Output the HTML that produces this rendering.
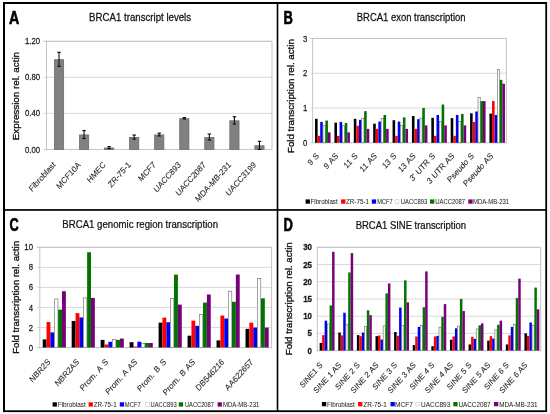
<!DOCTYPE html><html><head><meta charset="utf-8"><style>html,body{margin:0;padding:0;background:#fff;width:550px;height:414px;overflow:hidden}svg{display:block;filter:blur(0.3px)}text{font-family:"Liberation Sans", sans-serif}</style></head><body>
<svg width="550" height="414" viewBox="0 0 550 414">
<rect width="550" height="414" fill="#fff"/>
<rect x="3" y="2" width="2" height="410" fill="#000"/>
<rect x="545.3" y="2" width="1.8" height="410" fill="#000"/>
<rect x="3" y="2" width="544" height="2" fill="#000"/>
<rect x="3" y="410.3" width="544" height="1.8" fill="#000"/>
<rect x="276.7" y="2" width="1.6" height="410" fill="#000"/>
<rect x="3" y="209.1" width="544" height="1.7" fill="#000"/>
<text x="0" y="0" font-size="18" text-anchor="start" font-weight="bold" fill="#000" stroke="#000" stroke-width="0.6" transform="translate(9.00 23.50) scale(0.790 1)">A</text>
<text x="0" y="0" font-size="18" text-anchor="start" font-weight="bold" fill="#000" stroke="#000" stroke-width="0.6" transform="translate(283.60 24.30) scale(0.720 1)">B</text>
<text x="0" y="0" font-size="18" text-anchor="start" font-weight="bold" fill="#000" stroke="#000" stroke-width="0.6" transform="translate(9.60 230.50) scale(0.710 1)">C</text>
<text x="0" y="0" font-size="18" text-anchor="start" font-weight="bold" fill="#000" stroke="#000" stroke-width="0.6" transform="translate(283.50 230.50) scale(0.720 1)">D</text>
<text x="0" y="0" font-size="11" text-anchor="start" font-weight="normal" fill="#111" stroke="#111" stroke-width="0.25" transform="translate(89.11 21.30) scale(0.879 1)">BRCA1 transcript levels</text>
<text x="0" y="0" font-size="11" text-anchor="start" font-weight="normal" fill="#111" stroke="#111" stroke-width="0.25" transform="translate(356.82 21.30) scale(0.860 1)">BRCA1 exon transcription</text>
<text x="0" y="0" font-size="11" text-anchor="start" font-weight="normal" fill="#111" stroke="#111" stroke-width="0.25" transform="translate(62.31 228.30) scale(0.876 1)">BRCA1 genomic region transcription</text>
<text x="0" y="0" font-size="11" text-anchor="start" font-weight="normal" fill="#111" stroke="#111" stroke-width="0.25" transform="translate(355.72 228.60) scale(0.861 1)">BRCA1 SINE transcription</text>
<text x="0" y="0" font-size="9.82" text-anchor="middle" font-weight="normal" fill="#111" stroke="#111" stroke-width="0.35" transform="translate(19.20 96.10) scale(0.860 1) rotate(-90)">Expression rel. actin</text>
<text x="0" y="0" font-size="9.72" text-anchor="middle" font-weight="normal" fill="#111" stroke="#111" stroke-width="0.35" transform="translate(293.80 96.10) scale(0.930 1) rotate(-90)">Fold transcription rel. actin</text>
<text x="0" y="0" font-size="9.64" text-anchor="middle" font-weight="normal" fill="#111" stroke="#111" stroke-width="0.35" transform="translate(18.50 297.40) scale(0.930 1) rotate(-90)">Fold transcription rel. actin</text>
<text x="0" y="0" font-size="9.64" text-anchor="middle" font-weight="normal" fill="#111" stroke="#111" stroke-width="0.35" transform="translate(292.30 298.80) scale(0.930 1) rotate(-90)">Fold transcription rel. actin</text>
<line x1="43.5" y1="113.37" x2="272.0" y2="113.37" stroke="#d9d9d9" stroke-width="1"/>
<line x1="43.5" y1="77.33" x2="272.0" y2="77.33" stroke="#d9d9d9" stroke-width="1"/>
<line x1="43.5" y1="41.30" x2="272.0" y2="41.30" stroke="#d9d9d9" stroke-width="1"/>
<line x1="43.5" y1="41.3" x2="272.0" y2="41.3" stroke="#c4c4c4" stroke-width="1"/>
<line x1="46.5" y1="41.3" x2="46.5" y2="149.4" stroke="#c4c4c4" stroke-width="1"/>
<line x1="272.0" y1="41.3" x2="272.0" y2="149.4" stroke="#c4c4c4" stroke-width="1"/>
<line x1="43.5" y1="149.4" x2="272.0" y2="149.4" stroke="#c4c4c4" stroke-width="1"/>
<text x="0" y="0" font-size="9.7" text-anchor="end" font-weight="normal" fill="#1a1a1a" stroke="#1a1a1a" stroke-width="0.25" transform="translate(40.00 152.50) scale(0.800 1)">0.00</text>
<text x="0" y="0" font-size="9.7" text-anchor="end" font-weight="normal" fill="#1a1a1a" stroke="#1a1a1a" stroke-width="0.25" transform="translate(40.00 116.47) scale(0.800 1)">0.40</text>
<text x="0" y="0" font-size="9.7" text-anchor="end" font-weight="normal" fill="#1a1a1a" stroke="#1a1a1a" stroke-width="0.25" transform="translate(40.00 80.43) scale(0.800 1)">0.80</text>
<text x="0" y="0" font-size="9.7" text-anchor="end" font-weight="normal" fill="#1a1a1a" stroke="#1a1a1a" stroke-width="0.25" transform="translate(40.00 44.40) scale(0.800 1)">1.20</text>
<line x1="46.50" y1="149.4" x2="46.50" y2="151.4" stroke="#e4e4e4" stroke-width="1"/>
<line x1="71.56" y1="149.4" x2="71.56" y2="151.4" stroke="#e4e4e4" stroke-width="1"/>
<line x1="96.61" y1="149.4" x2="96.61" y2="151.4" stroke="#e4e4e4" stroke-width="1"/>
<line x1="121.67" y1="149.4" x2="121.67" y2="151.4" stroke="#e4e4e4" stroke-width="1"/>
<line x1="146.72" y1="149.4" x2="146.72" y2="151.4" stroke="#e4e4e4" stroke-width="1"/>
<line x1="171.78" y1="149.4" x2="171.78" y2="151.4" stroke="#e4e4e4" stroke-width="1"/>
<line x1="196.83" y1="149.4" x2="196.83" y2="151.4" stroke="#e4e4e4" stroke-width="1"/>
<line x1="221.89" y1="149.4" x2="221.89" y2="151.4" stroke="#e4e4e4" stroke-width="1"/>
<line x1="246.94" y1="149.4" x2="246.94" y2="151.4" stroke="#e4e4e4" stroke-width="1"/>
<line x1="272.00" y1="149.4" x2="272.00" y2="151.4" stroke="#e4e4e4" stroke-width="1"/>
<rect x="54.43" y="59.72" width="9.2" height="89.68" fill="#818181" stroke="#6c6c6c" stroke-width="0.8"/>
<line x1="59.03" y1="52.32" x2="59.03" y2="66.32" stroke="#111" stroke-width="1.1"/>
<line x1="57.33" y1="52.32" x2="60.73" y2="52.32" stroke="#111" stroke-width="1.2"/>
<line x1="57.33" y1="66.32" x2="60.73" y2="66.32" stroke="#111" stroke-width="1.2"/>
<text x="0" y="0" font-size="8.7" text-anchor="end" font-weight="normal" fill="#262626" stroke="#262626" stroke-width="0.1" word-spacing="1.2" transform="translate(56.03 165.40) scale(0.890 1) rotate(-45)">Fibroblast</text>
<rect x="79.48" y="134.94" width="9.2" height="14.46" fill="#818181" stroke="#6c6c6c" stroke-width="0.8"/>
<line x1="84.08" y1="130.54" x2="84.08" y2="138.54" stroke="#111" stroke-width="1.1"/>
<line x1="82.38" y1="130.54" x2="85.78" y2="130.54" stroke="#111" stroke-width="1.2"/>
<line x1="82.38" y1="138.54" x2="85.78" y2="138.54" stroke="#111" stroke-width="1.2"/>
<text x="0" y="0" font-size="8.7" text-anchor="end" font-weight="normal" fill="#262626" stroke="#262626" stroke-width="0.1" word-spacing="1.2" transform="translate(81.08 165.40) scale(0.890 1) rotate(-45)">MCF10A</text>
<rect x="104.54" y="148.00" width="9.2" height="1.40" fill="#818181" stroke="#6c6c6c" stroke-width="0.8"/>
<line x1="109.14" y1="146.60" x2="109.14" y2="148.60" stroke="#111" stroke-width="1.1"/>
<line x1="107.44" y1="146.60" x2="110.84" y2="146.60" stroke="#111" stroke-width="1.2"/>
<line x1="107.44" y1="148.60" x2="110.84" y2="148.60" stroke="#111" stroke-width="1.2"/>
<text x="0" y="0" font-size="8.7" text-anchor="end" font-weight="normal" fill="#262626" stroke="#262626" stroke-width="0.1" word-spacing="1.2" transform="translate(106.14 165.40) scale(0.890 1) rotate(-45)">HMEC</text>
<rect x="129.59" y="137.46" width="9.2" height="11.94" fill="#818181" stroke="#6c6c6c" stroke-width="0.8"/>
<line x1="134.19" y1="135.06" x2="134.19" y2="139.06" stroke="#111" stroke-width="1.1"/>
<line x1="132.49" y1="135.06" x2="135.89" y2="135.06" stroke="#111" stroke-width="1.2"/>
<line x1="132.49" y1="139.06" x2="135.89" y2="139.06" stroke="#111" stroke-width="1.2"/>
<text x="0" y="0" font-size="8.7" text-anchor="end" font-weight="normal" fill="#262626" stroke="#262626" stroke-width="0.1" word-spacing="1.2" transform="translate(131.19 165.40) scale(0.890 1) rotate(-45)">ZR-75-1</text>
<rect x="154.65" y="134.94" width="9.2" height="14.46" fill="#818181" stroke="#6c6c6c" stroke-width="0.8"/>
<line x1="159.25" y1="133.14" x2="159.25" y2="135.94" stroke="#111" stroke-width="1.1"/>
<line x1="157.55" y1="133.14" x2="160.95" y2="133.14" stroke="#111" stroke-width="1.2"/>
<line x1="157.55" y1="135.94" x2="160.95" y2="135.94" stroke="#111" stroke-width="1.2"/>
<text x="0" y="0" font-size="8.7" text-anchor="end" font-weight="normal" fill="#262626" stroke="#262626" stroke-width="0.1" word-spacing="1.2" transform="translate(156.25 165.40) scale(0.890 1) rotate(-45)">MCF7</text>
<rect x="179.71" y="118.72" width="9.2" height="30.68" fill="#818181" stroke="#6c6c6c" stroke-width="0.8"/>
<line x1="184.31" y1="117.62" x2="184.31" y2="119.02" stroke="#111" stroke-width="1.1"/>
<line x1="182.61" y1="117.62" x2="186.01" y2="117.62" stroke="#111" stroke-width="1.2"/>
<line x1="182.61" y1="119.02" x2="186.01" y2="119.02" stroke="#111" stroke-width="1.2"/>
<text x="0" y="0" font-size="8.7" text-anchor="end" font-weight="normal" fill="#262626" stroke="#262626" stroke-width="0.1" word-spacing="1.2" transform="translate(181.31 165.40) scale(0.890 1) rotate(-45)">UACC893</text>
<rect x="204.76" y="137.46" width="9.2" height="11.94" fill="#818181" stroke="#6c6c6c" stroke-width="0.8"/>
<line x1="209.36" y1="134.06" x2="209.36" y2="140.06" stroke="#111" stroke-width="1.1"/>
<line x1="207.66" y1="134.06" x2="211.06" y2="134.06" stroke="#111" stroke-width="1.2"/>
<line x1="207.66" y1="140.06" x2="211.06" y2="140.06" stroke="#111" stroke-width="1.2"/>
<text x="0" y="0" font-size="8.7" text-anchor="end" font-weight="normal" fill="#262626" stroke="#262626" stroke-width="0.1" word-spacing="1.2" transform="translate(206.36 165.40) scale(0.890 1) rotate(-45)">UACC2087</text>
<rect x="229.82" y="120.79" width="9.2" height="28.61" fill="#818181" stroke="#6c6c6c" stroke-width="0.8"/>
<line x1="234.42" y1="116.79" x2="234.42" y2="123.99" stroke="#111" stroke-width="1.1"/>
<line x1="232.72" y1="116.79" x2="236.12" y2="116.79" stroke="#111" stroke-width="1.2"/>
<line x1="232.72" y1="123.99" x2="236.12" y2="123.99" stroke="#111" stroke-width="1.2"/>
<text x="0" y="0" font-size="8.7" text-anchor="end" font-weight="normal" fill="#262626" stroke="#262626" stroke-width="0.1" word-spacing="1.2" transform="translate(231.42 165.40) scale(0.890 1) rotate(-45)">MDA-MB-231</text>
<rect x="254.87" y="145.75" width="9.2" height="3.65" fill="#818181" stroke="#6c6c6c" stroke-width="0.8"/>
<line x1="259.47" y1="141.35" x2="259.47" y2="149.35" stroke="#111" stroke-width="1.1"/>
<line x1="257.77" y1="141.35" x2="261.17" y2="141.35" stroke="#111" stroke-width="1.2"/>
<line x1="257.77" y1="149.35" x2="261.17" y2="149.35" stroke="#111" stroke-width="1.2"/>
<text x="0" y="0" font-size="8.7" text-anchor="end" font-weight="normal" fill="#262626" stroke="#262626" stroke-width="0.1" word-spacing="1.2" transform="translate(256.47 165.40) scale(0.890 1) rotate(-45)">UACC3199</text>
<line x1="310.6" y1="108.03" x2="506.4" y2="108.03" stroke="#d9d9d9" stroke-width="1"/>
<line x1="310.6" y1="73.27" x2="506.4" y2="73.27" stroke="#d9d9d9" stroke-width="1"/>
<line x1="310.6" y1="38.50" x2="506.4" y2="38.50" stroke="#d9d9d9" stroke-width="1"/>
<line x1="310.6" y1="38.5" x2="506.4" y2="38.5" stroke="#c4c4c4" stroke-width="1"/>
<line x1="312.6" y1="38.5" x2="312.6" y2="142.8" stroke="#c4c4c4" stroke-width="1"/>
<line x1="506.4" y1="38.5" x2="506.4" y2="142.8" stroke="#c4c4c4" stroke-width="1"/>
<line x1="310.6" y1="142.8" x2="506.4" y2="142.8" stroke="#c4c4c4" stroke-width="1"/>
<text x="0" y="0" font-size="9.7" text-anchor="end" font-weight="normal" fill="#1a1a1a" stroke="#1a1a1a" stroke-width="0.25" transform="translate(307.30 145.90) scale(0.800 1)">0</text>
<text x="0" y="0" font-size="9.7" text-anchor="end" font-weight="normal" fill="#1a1a1a" stroke="#1a1a1a" stroke-width="0.25" transform="translate(307.30 111.13) scale(0.800 1)">1</text>
<text x="0" y="0" font-size="9.7" text-anchor="end" font-weight="normal" fill="#1a1a1a" stroke="#1a1a1a" stroke-width="0.25" transform="translate(307.30 76.37) scale(0.800 1)">2</text>
<text x="0" y="0" font-size="9.7" text-anchor="end" font-weight="normal" fill="#1a1a1a" stroke="#1a1a1a" stroke-width="0.25" transform="translate(307.30 41.60) scale(0.800 1)">3</text>
<line x1="312.60" y1="142.8" x2="312.60" y2="144.8" stroke="#e4e4e4" stroke-width="1"/>
<line x1="331.98" y1="142.8" x2="331.98" y2="144.8" stroke="#e4e4e4" stroke-width="1"/>
<line x1="351.36" y1="142.8" x2="351.36" y2="144.8" stroke="#e4e4e4" stroke-width="1"/>
<line x1="370.74" y1="142.8" x2="370.74" y2="144.8" stroke="#e4e4e4" stroke-width="1"/>
<line x1="390.12" y1="142.8" x2="390.12" y2="144.8" stroke="#e4e4e4" stroke-width="1"/>
<line x1="409.50" y1="142.8" x2="409.50" y2="144.8" stroke="#e4e4e4" stroke-width="1"/>
<line x1="428.88" y1="142.8" x2="428.88" y2="144.8" stroke="#e4e4e4" stroke-width="1"/>
<line x1="448.26" y1="142.8" x2="448.26" y2="144.8" stroke="#e4e4e4" stroke-width="1"/>
<line x1="467.64" y1="142.8" x2="467.64" y2="144.8" stroke="#e4e4e4" stroke-width="1"/>
<line x1="487.02" y1="142.8" x2="487.02" y2="144.8" stroke="#e4e4e4" stroke-width="1"/>
<line x1="506.40" y1="142.8" x2="506.40" y2="144.8" stroke="#e4e4e4" stroke-width="1"/>
<rect x="315.04" y="118.81" width="2.58" height="23.99" fill="#000000"/>
<rect x="317.62" y="135.85" width="2.58" height="6.95" fill="#ff0000"/>
<rect x="320.21" y="121.94" width="2.58" height="20.86" fill="#0000f0"/>
<rect x="322.99" y="125.42" width="2.18" height="17.38" fill="#fff" stroke="#666" stroke-width="0.6"/>
<rect x="325.37" y="120.55" width="2.58" height="22.25" fill="#007300"/>
<rect x="327.96" y="132.37" width="2.58" height="10.43" fill="#780078"/>
<text x="0" y="0" font-size="8.7" text-anchor="end" font-weight="normal" fill="#262626" stroke="#262626" stroke-width="0.1" word-spacing="0.6" transform="translate(319.29 156.30) scale(0.890 1) rotate(-45)">9 S</text>
<rect x="334.42" y="122.64" width="2.58" height="20.16" fill="#000000"/>
<rect x="337.00" y="135.85" width="2.58" height="6.95" fill="#ff0000"/>
<rect x="339.59" y="121.94" width="2.58" height="20.86" fill="#0000f0"/>
<rect x="342.37" y="125.76" width="2.18" height="17.04" fill="#fff" stroke="#666" stroke-width="0.6"/>
<rect x="344.75" y="122.98" width="2.58" height="19.82" fill="#007300"/>
<rect x="347.34" y="132.37" width="2.58" height="10.43" fill="#780078"/>
<text x="0" y="0" font-size="8.7" text-anchor="end" font-weight="normal" fill="#262626" stroke="#262626" stroke-width="0.1" word-spacing="0.6" transform="translate(338.67 156.30) scale(0.890 1) rotate(-45)">9 AS</text>
<rect x="353.80" y="118.81" width="2.58" height="23.99" fill="#000000"/>
<rect x="356.38" y="125.76" width="2.58" height="17.04" fill="#ff0000"/>
<rect x="358.97" y="119.85" width="2.58" height="22.95" fill="#0000f0"/>
<rect x="361.75" y="118.46" width="2.18" height="24.34" fill="#fff" stroke="#666" stroke-width="0.6"/>
<rect x="364.13" y="111.16" width="2.58" height="31.64" fill="#007300"/>
<rect x="366.72" y="128.89" width="2.58" height="13.91" fill="#780078"/>
<text x="0" y="0" font-size="8.7" text-anchor="end" font-weight="normal" fill="#262626" stroke="#262626" stroke-width="0.1" word-spacing="0.6" transform="translate(358.05 156.30) scale(0.890 1) rotate(-45)">11 S</text>
<rect x="373.18" y="123.68" width="2.58" height="19.12" fill="#000000"/>
<rect x="375.76" y="128.89" width="2.58" height="13.91" fill="#ff0000"/>
<rect x="378.35" y="121.59" width="2.58" height="21.21" fill="#0000f0"/>
<rect x="381.13" y="118.46" width="2.18" height="24.34" fill="#fff" stroke="#666" stroke-width="0.6"/>
<rect x="383.51" y="114.99" width="2.58" height="27.81" fill="#007300"/>
<rect x="386.10" y="128.89" width="2.58" height="13.91" fill="#780078"/>
<text x="0" y="0" font-size="8.7" text-anchor="end" font-weight="normal" fill="#262626" stroke="#262626" stroke-width="0.1" word-spacing="0.6" transform="translate(377.43 156.30) scale(0.890 1) rotate(-45)">11 AS</text>
<rect x="392.56" y="120.20" width="2.58" height="22.60" fill="#000000"/>
<rect x="395.14" y="135.85" width="2.58" height="6.95" fill="#ff0000"/>
<rect x="397.73" y="121.59" width="2.58" height="21.21" fill="#0000f0"/>
<rect x="400.51" y="125.42" width="2.18" height="17.38" fill="#fff" stroke="#666" stroke-width="0.6"/>
<rect x="402.89" y="117.42" width="2.58" height="25.38" fill="#007300"/>
<rect x="405.48" y="128.89" width="2.58" height="13.91" fill="#780078"/>
<text x="0" y="0" font-size="8.7" text-anchor="end" font-weight="normal" fill="#262626" stroke="#262626" stroke-width="0.1" word-spacing="0.6" transform="translate(396.81 156.30) scale(0.890 1) rotate(-45)">13 S</text>
<rect x="411.94" y="116.03" width="2.58" height="26.77" fill="#000000"/>
<rect x="414.52" y="128.89" width="2.58" height="13.91" fill="#ff0000"/>
<rect x="417.11" y="119.16" width="2.58" height="23.64" fill="#0000f0"/>
<rect x="419.89" y="118.12" width="2.18" height="24.68" fill="#fff" stroke="#666" stroke-width="0.6"/>
<rect x="422.27" y="108.03" width="2.58" height="34.77" fill="#007300"/>
<rect x="424.86" y="125.42" width="2.58" height="17.38" fill="#780078"/>
<text x="0" y="0" font-size="8.7" text-anchor="end" font-weight="normal" fill="#262626" stroke="#262626" stroke-width="0.1" word-spacing="0.6" transform="translate(416.19 156.30) scale(0.890 1) rotate(-45)">13 AS</text>
<rect x="431.32" y="117.77" width="2.58" height="25.03" fill="#000000"/>
<rect x="433.90" y="135.85" width="2.58" height="6.95" fill="#ff0000"/>
<rect x="436.49" y="114.99" width="2.58" height="27.81" fill="#0000f0"/>
<rect x="439.27" y="121.59" width="2.18" height="21.21" fill="#fff" stroke="#666" stroke-width="0.6"/>
<rect x="441.65" y="104.56" width="2.58" height="38.24" fill="#007300"/>
<rect x="444.24" y="125.42" width="2.58" height="17.38" fill="#780078"/>
<text x="0" y="0" font-size="8.7" text-anchor="end" font-weight="normal" fill="#262626" stroke="#262626" stroke-width="0.1" word-spacing="0.6" transform="translate(435.57 156.30) scale(0.890 1) rotate(-45)">3' UTR S</text>
<rect x="450.70" y="118.12" width="2.58" height="24.68" fill="#000000"/>
<rect x="453.28" y="135.85" width="2.58" height="6.95" fill="#ff0000"/>
<rect x="455.87" y="114.99" width="2.58" height="27.81" fill="#0000f0"/>
<rect x="458.65" y="121.59" width="2.18" height="21.21" fill="#fff" stroke="#666" stroke-width="0.6"/>
<rect x="461.03" y="113.94" width="2.58" height="28.86" fill="#007300"/>
<rect x="463.62" y="125.42" width="2.58" height="17.38" fill="#780078"/>
<text x="0" y="0" font-size="8.7" text-anchor="end" font-weight="normal" fill="#262626" stroke="#262626" stroke-width="0.1" word-spacing="0.6" transform="translate(454.95 156.30) scale(0.890 1) rotate(-45)">3 UTR AS</text>
<rect x="470.08" y="113.25" width="2.58" height="29.55" fill="#000000"/>
<rect x="472.66" y="121.94" width="2.58" height="20.86" fill="#ff0000"/>
<rect x="475.25" y="111.51" width="2.58" height="31.29" fill="#0000f0"/>
<rect x="478.03" y="97.26" width="2.18" height="45.54" fill="#fff" stroke="#666" stroke-width="0.6"/>
<rect x="480.41" y="101.08" width="2.58" height="41.72" fill="#007300"/>
<rect x="483.00" y="101.08" width="2.58" height="41.72" fill="#780078"/>
<text x="0" y="0" font-size="8.7" text-anchor="end" font-weight="normal" fill="#262626" stroke="#262626" stroke-width="0.1" word-spacing="0.6" transform="translate(474.33 156.30) scale(0.890 1) rotate(-45)">Pseudo S</text>
<rect x="489.46" y="113.60" width="2.58" height="29.20" fill="#000000"/>
<rect x="492.04" y="101.08" width="2.58" height="41.72" fill="#ff0000"/>
<rect x="494.63" y="114.99" width="2.58" height="27.81" fill="#0000f0"/>
<rect x="497.41" y="69.44" width="2.18" height="73.36" fill="#fff" stroke="#666" stroke-width="0.6"/>
<rect x="499.79" y="79.87" width="2.58" height="62.93" fill="#007300"/>
<rect x="502.38" y="83.70" width="2.58" height="59.10" fill="#780078"/>
<text x="0" y="0" font-size="8.7" text-anchor="end" font-weight="normal" fill="#262626" stroke="#262626" stroke-width="0.1" word-spacing="0.6" transform="translate(493.71 156.30) scale(0.890 1) rotate(-45)">Pseudo AS</text>
<line x1="36.8" y1="327.46" x2="271.6" y2="327.46" stroke="#d9d9d9" stroke-width="1"/>
<line x1="36.8" y1="307.42" x2="271.6" y2="307.42" stroke="#d9d9d9" stroke-width="1"/>
<line x1="36.8" y1="287.38" x2="271.6" y2="287.38" stroke="#d9d9d9" stroke-width="1"/>
<line x1="36.8" y1="267.34" x2="271.6" y2="267.34" stroke="#d9d9d9" stroke-width="1"/>
<line x1="36.8" y1="247.30" x2="271.6" y2="247.30" stroke="#d9d9d9" stroke-width="1"/>
<line x1="36.8" y1="247.3" x2="271.6" y2="247.3" stroke="#c4c4c4" stroke-width="1"/>
<line x1="39.8" y1="247.3" x2="39.8" y2="347.5" stroke="#c4c4c4" stroke-width="1"/>
<line x1="271.6" y1="247.3" x2="271.6" y2="347.5" stroke="#c4c4c4" stroke-width="1"/>
<line x1="36.8" y1="347.5" x2="271.6" y2="347.5" stroke="#c4c4c4" stroke-width="1"/>
<text x="0" y="0" font-size="9.7" text-anchor="end" font-weight="normal" fill="#1a1a1a" stroke="#1a1a1a" stroke-width="0.25" transform="translate(33.00 350.60) scale(0.800 1)">0</text>
<text x="0" y="0" font-size="9.7" text-anchor="end" font-weight="normal" fill="#1a1a1a" stroke="#1a1a1a" stroke-width="0.25" transform="translate(33.00 330.56) scale(0.800 1)">2</text>
<text x="0" y="0" font-size="9.7" text-anchor="end" font-weight="normal" fill="#1a1a1a" stroke="#1a1a1a" stroke-width="0.25" transform="translate(33.00 310.52) scale(0.800 1)">4</text>
<text x="0" y="0" font-size="9.7" text-anchor="end" font-weight="normal" fill="#1a1a1a" stroke="#1a1a1a" stroke-width="0.25" transform="translate(33.00 290.48) scale(0.800 1)">6</text>
<text x="0" y="0" font-size="9.7" text-anchor="end" font-weight="normal" fill="#1a1a1a" stroke="#1a1a1a" stroke-width="0.25" transform="translate(33.00 270.44) scale(0.800 1)">8</text>
<text x="0" y="0" font-size="9.7" text-anchor="end" font-weight="normal" fill="#1a1a1a" stroke="#1a1a1a" stroke-width="0.25" transform="translate(33.00 250.40) scale(0.800 1)">10</text>
<line x1="39.80" y1="347.5" x2="39.80" y2="349.5" stroke="#e4e4e4" stroke-width="1"/>
<line x1="68.78" y1="347.5" x2="68.78" y2="349.5" stroke="#e4e4e4" stroke-width="1"/>
<line x1="97.75" y1="347.5" x2="97.75" y2="349.5" stroke="#e4e4e4" stroke-width="1"/>
<line x1="126.73" y1="347.5" x2="126.73" y2="349.5" stroke="#e4e4e4" stroke-width="1"/>
<line x1="155.70" y1="347.5" x2="155.70" y2="349.5" stroke="#e4e4e4" stroke-width="1"/>
<line x1="184.68" y1="347.5" x2="184.68" y2="349.5" stroke="#e4e4e4" stroke-width="1"/>
<line x1="213.65" y1="347.5" x2="213.65" y2="349.5" stroke="#e4e4e4" stroke-width="1"/>
<line x1="242.62" y1="347.5" x2="242.62" y2="349.5" stroke="#e4e4e4" stroke-width="1"/>
<line x1="271.60" y1="347.5" x2="271.60" y2="349.5" stroke="#e4e4e4" stroke-width="1"/>
<rect x="42.70" y="339.38" width="3.86" height="8.12" fill="#000000"/>
<rect x="46.56" y="322.05" width="3.86" height="25.45" fill="#ff0000"/>
<rect x="50.42" y="332.37" width="3.86" height="15.13" fill="#0000f0"/>
<rect x="54.49" y="299.00" width="3.46" height="48.50" fill="#fff" stroke="#666" stroke-width="0.6"/>
<rect x="58.15" y="309.62" width="3.86" height="37.88" fill="#007300"/>
<rect x="62.01" y="291.19" width="3.86" height="56.31" fill="#780078"/>
<text x="0" y="0" font-size="8.7" text-anchor="end" font-weight="normal" fill="#262626" stroke="#262626" stroke-width="0.1" word-spacing="1.2" transform="translate(50.79 362.50) scale(0.890 1) rotate(-45)">NBR2S</text>
<rect x="71.67" y="320.95" width="3.86" height="26.55" fill="#000000"/>
<rect x="75.54" y="313.13" width="3.86" height="34.37" fill="#ff0000"/>
<rect x="79.40" y="317.44" width="3.86" height="30.06" fill="#0000f0"/>
<rect x="83.46" y="297.90" width="3.46" height="49.60" fill="#fff" stroke="#666" stroke-width="0.6"/>
<rect x="87.13" y="252.21" width="3.86" height="95.29" fill="#007300"/>
<rect x="90.99" y="297.90" width="3.86" height="49.60" fill="#780078"/>
<text x="0" y="0" font-size="8.7" text-anchor="end" font-weight="normal" fill="#262626" stroke="#262626" stroke-width="0.1" word-spacing="1.2" transform="translate(79.76 362.50) scale(0.890 1) rotate(-45)">NBR2AS</text>
<rect x="100.65" y="339.88" width="3.86" height="7.62" fill="#000000"/>
<rect x="104.51" y="344.49" width="3.86" height="3.01" fill="#ff0000"/>
<rect x="108.37" y="341.79" width="3.86" height="5.71" fill="#0000f0"/>
<rect x="112.44" y="339.38" width="3.46" height="8.12" fill="#fff" stroke="#666" stroke-width="0.6"/>
<rect x="116.10" y="339.88" width="3.86" height="7.62" fill="#007300"/>
<rect x="119.96" y="338.58" width="3.86" height="8.92" fill="#780078"/>
<text x="0" y="0" font-size="8.7" text-anchor="end" font-weight="normal" fill="#262626" stroke="#262626" stroke-width="0.1" word-spacing="1.2" transform="translate(108.74 362.50) scale(0.890 1) rotate(-45)">Prom. A S</text>
<rect x="129.62" y="342.19" width="3.86" height="5.31" fill="#000000"/>
<rect x="133.49" y="346.50" width="3.86" height="1.00" fill="#ff0000"/>
<rect x="137.35" y="341.69" width="3.86" height="5.81" fill="#0000f0"/>
<rect x="141.41" y="343.29" width="3.46" height="4.21" fill="#fff" stroke="#666" stroke-width="0.6"/>
<rect x="145.08" y="342.99" width="3.86" height="4.51" fill="#007300"/>
<rect x="148.94" y="342.99" width="3.86" height="4.51" fill="#780078"/>
<text x="0" y="0" font-size="8.7" text-anchor="end" font-weight="normal" fill="#262626" stroke="#262626" stroke-width="0.1" word-spacing="1.2" transform="translate(137.71 362.50) scale(0.890 1) rotate(-45)">Prom. A AS</text>
<rect x="158.60" y="322.65" width="3.86" height="24.85" fill="#000000"/>
<rect x="162.46" y="317.64" width="3.86" height="29.86" fill="#ff0000"/>
<rect x="166.32" y="322.25" width="3.86" height="25.25" fill="#0000f0"/>
<rect x="170.39" y="298.30" width="3.46" height="49.20" fill="#fff" stroke="#666" stroke-width="0.6"/>
<rect x="174.05" y="274.55" width="3.86" height="72.95" fill="#007300"/>
<rect x="177.91" y="304.61" width="3.86" height="42.89" fill="#780078"/>
<text x="0" y="0" font-size="8.7" text-anchor="end" font-weight="normal" fill="#262626" stroke="#262626" stroke-width="0.1" word-spacing="1.2" transform="translate(166.69 362.50) scale(0.890 1) rotate(-45)">Prom. B S</text>
<rect x="187.57" y="335.68" width="3.86" height="11.82" fill="#000000"/>
<rect x="191.44" y="320.65" width="3.86" height="26.85" fill="#ff0000"/>
<rect x="195.30" y="325.86" width="3.86" height="21.64" fill="#0000f0"/>
<rect x="199.36" y="314.43" width="3.46" height="33.07" fill="#fff" stroke="#666" stroke-width="0.6"/>
<rect x="203.03" y="302.61" width="3.86" height="44.89" fill="#007300"/>
<rect x="206.89" y="294.49" width="3.86" height="53.01" fill="#780078"/>
<text x="0" y="0" font-size="8.7" text-anchor="end" font-weight="normal" fill="#262626" stroke="#262626" stroke-width="0.1" word-spacing="1.2" transform="translate(195.66 362.50) scale(0.890 1) rotate(-45)">Prom. B AS</text>
<rect x="216.55" y="340.39" width="3.86" height="7.11" fill="#000000"/>
<rect x="220.41" y="315.54" width="3.86" height="31.96" fill="#ff0000"/>
<rect x="224.27" y="318.54" width="3.86" height="28.96" fill="#0000f0"/>
<rect x="228.34" y="291.19" width="3.46" height="56.31" fill="#fff" stroke="#666" stroke-width="0.6"/>
<rect x="232.00" y="301.81" width="3.86" height="45.69" fill="#007300"/>
<rect x="235.86" y="274.55" width="3.86" height="72.95" fill="#780078"/>
<text x="0" y="0" font-size="8.7" text-anchor="end" font-weight="normal" fill="#262626" stroke="#262626" stroke-width="0.1" word-spacing="1.2" transform="translate(224.64 362.50) scale(0.890 1) rotate(-45)">DB546216</text>
<rect x="245.52" y="328.86" width="3.86" height="18.64" fill="#000000"/>
<rect x="249.39" y="322.65" width="3.86" height="24.85" fill="#ff0000"/>
<rect x="253.25" y="327.56" width="3.86" height="19.94" fill="#0000f0"/>
<rect x="257.31" y="278.36" width="3.46" height="69.14" fill="#fff" stroke="#666" stroke-width="0.6"/>
<rect x="260.98" y="298.30" width="3.86" height="49.20" fill="#007300"/>
<rect x="264.84" y="327.56" width="3.86" height="19.94" fill="#780078"/>
<text x="0" y="0" font-size="8.7" text-anchor="end" font-weight="normal" fill="#262626" stroke="#262626" stroke-width="0.1" word-spacing="1.2" transform="translate(253.61 362.50) scale(0.890 1) rotate(-45)">AA622657</text>
<line x1="316.8" y1="333.38" x2="540.7" y2="333.38" stroke="#d9d9d9" stroke-width="1"/>
<line x1="316.8" y1="316.17" x2="540.7" y2="316.17" stroke="#d9d9d9" stroke-width="1"/>
<line x1="316.8" y1="298.95" x2="540.7" y2="298.95" stroke="#d9d9d9" stroke-width="1"/>
<line x1="316.8" y1="281.73" x2="540.7" y2="281.73" stroke="#d9d9d9" stroke-width="1"/>
<line x1="316.8" y1="264.52" x2="540.7" y2="264.52" stroke="#d9d9d9" stroke-width="1"/>
<line x1="316.8" y1="247.30" x2="540.7" y2="247.30" stroke="#d9d9d9" stroke-width="1"/>
<line x1="316.8" y1="247.3" x2="540.7" y2="247.3" stroke="#c4c4c4" stroke-width="1"/>
<line x1="317.3" y1="247.3" x2="317.3" y2="350.6" stroke="#c4c4c4" stroke-width="1"/>
<line x1="540.7" y1="247.3" x2="540.7" y2="350.6" stroke="#c4c4c4" stroke-width="1"/>
<line x1="316.8" y1="350.6" x2="540.7" y2="350.6" stroke="#c4c4c4" stroke-width="1"/>
<text x="0" y="0" font-size="9.7" text-anchor="end" font-weight="bold" fill="#1a1a1a" stroke="#1a1a1a" stroke-width="0.3" transform="translate(312.00 353.70) scale(0.820 1)">0</text>
<text x="0" y="0" font-size="9.7" text-anchor="end" font-weight="bold" fill="#1a1a1a" stroke="#1a1a1a" stroke-width="0.3" transform="translate(312.00 336.48) scale(0.820 1)">5</text>
<text x="0" y="0" font-size="9.7" text-anchor="end" font-weight="bold" fill="#1a1a1a" stroke="#1a1a1a" stroke-width="0.3" transform="translate(312.00 319.27) scale(0.820 1)">10</text>
<text x="0" y="0" font-size="9.7" text-anchor="end" font-weight="bold" fill="#1a1a1a" stroke="#1a1a1a" stroke-width="0.3" transform="translate(312.00 302.05) scale(0.820 1)">15</text>
<text x="0" y="0" font-size="9.7" text-anchor="end" font-weight="bold" fill="#1a1a1a" stroke="#1a1a1a" stroke-width="0.3" transform="translate(312.00 284.83) scale(0.820 1)">20</text>
<text x="0" y="0" font-size="9.7" text-anchor="end" font-weight="bold" fill="#1a1a1a" stroke="#1a1a1a" stroke-width="0.3" transform="translate(312.00 267.62) scale(0.820 1)">25</text>
<text x="0" y="0" font-size="9.7" text-anchor="end" font-weight="bold" fill="#1a1a1a" stroke="#1a1a1a" stroke-width="0.3" transform="translate(312.00 250.40) scale(0.820 1)">30</text>
<line x1="317.30" y1="350.6" x2="317.30" y2="352.6" stroke="#e4e4e4" stroke-width="1"/>
<line x1="335.92" y1="350.6" x2="335.92" y2="352.6" stroke="#e4e4e4" stroke-width="1"/>
<line x1="354.53" y1="350.6" x2="354.53" y2="352.6" stroke="#e4e4e4" stroke-width="1"/>
<line x1="373.15" y1="350.6" x2="373.15" y2="352.6" stroke="#e4e4e4" stroke-width="1"/>
<line x1="391.77" y1="350.6" x2="391.77" y2="352.6" stroke="#e4e4e4" stroke-width="1"/>
<line x1="410.38" y1="350.6" x2="410.38" y2="352.6" stroke="#e4e4e4" stroke-width="1"/>
<line x1="429.00" y1="350.6" x2="429.00" y2="352.6" stroke="#e4e4e4" stroke-width="1"/>
<line x1="447.62" y1="350.6" x2="447.62" y2="352.6" stroke="#e4e4e4" stroke-width="1"/>
<line x1="466.23" y1="350.6" x2="466.23" y2="352.6" stroke="#e4e4e4" stroke-width="1"/>
<line x1="484.85" y1="350.6" x2="484.85" y2="352.6" stroke="#e4e4e4" stroke-width="1"/>
<line x1="503.47" y1="350.6" x2="503.47" y2="352.6" stroke="#e4e4e4" stroke-width="1"/>
<line x1="522.08" y1="350.6" x2="522.08" y2="352.6" stroke="#e4e4e4" stroke-width="1"/>
<line x1="540.70" y1="350.6" x2="540.70" y2="352.6" stroke="#e4e4e4" stroke-width="1"/>
<rect x="319.66" y="342.89" width="2.48" height="7.71" fill="#000000"/>
<rect x="322.14" y="335.11" width="2.48" height="15.50" fill="#ff0000"/>
<rect x="324.63" y="320.64" width="2.48" height="29.96" fill="#0000f0"/>
<rect x="327.31" y="323.91" width="2.08" height="26.69" fill="#fff" stroke="#666" stroke-width="0.6"/>
<rect x="329.59" y="305.49" width="2.48" height="45.11" fill="#007300"/>
<rect x="332.07" y="251.78" width="2.48" height="98.82" fill="#780078"/>
<text x="0" y="0" font-size="8.4" text-anchor="end" font-weight="normal" fill="#262626" stroke="#262626" stroke-width="0.1" word-spacing="0.3" transform="translate(323.11 365.60) scale(0.890 1) rotate(-45)">SINE1 S</text>
<rect x="338.28" y="332.56" width="2.48" height="18.04" fill="#000000"/>
<rect x="340.76" y="335.35" width="2.48" height="15.25" fill="#ff0000"/>
<rect x="343.24" y="312.72" width="2.48" height="37.88" fill="#0000f0"/>
<rect x="345.93" y="324.22" width="2.08" height="26.38" fill="#fff" stroke="#666" stroke-width="0.6"/>
<rect x="348.21" y="272.44" width="2.48" height="78.16" fill="#007300"/>
<rect x="350.69" y="253.15" width="2.48" height="97.45" fill="#780078"/>
<text x="0" y="0" font-size="8.4" text-anchor="end" font-weight="normal" fill="#262626" stroke="#262626" stroke-width="0.1" word-spacing="0.3" transform="translate(341.73 365.60) scale(0.890 1) rotate(-45)">SINE 1 AS</text>
<rect x="356.90" y="335.11" width="2.48" height="15.50" fill="#000000"/>
<rect x="359.38" y="336.14" width="2.48" height="14.46" fill="#ff0000"/>
<rect x="361.86" y="332.56" width="2.48" height="18.04" fill="#0000f0"/>
<rect x="364.54" y="326.50" width="2.08" height="24.10" fill="#fff" stroke="#666" stroke-width="0.6"/>
<rect x="366.82" y="310.31" width="2.48" height="40.29" fill="#007300"/>
<rect x="369.31" y="315.13" width="2.48" height="35.47" fill="#780078"/>
<text x="0" y="0" font-size="8.4" text-anchor="end" font-weight="normal" fill="#262626" stroke="#262626" stroke-width="0.1" word-spacing="0.3" transform="translate(360.34 365.60) scale(0.890 1) rotate(-45)">SINE 2 S</text>
<rect x="375.51" y="336.14" width="2.48" height="14.46" fill="#000000"/>
<rect x="377.99" y="335.45" width="2.48" height="15.15" fill="#ff0000"/>
<rect x="380.48" y="339.58" width="2.48" height="11.02" fill="#0000f0"/>
<rect x="383.16" y="325.81" width="2.08" height="24.79" fill="#fff" stroke="#666" stroke-width="0.6"/>
<rect x="385.44" y="293.44" width="2.48" height="57.16" fill="#007300"/>
<rect x="387.92" y="283.46" width="2.48" height="67.15" fill="#780078"/>
<text x="0" y="0" font-size="8.4" text-anchor="end" font-weight="normal" fill="#262626" stroke="#262626" stroke-width="0.1" word-spacing="0.3" transform="translate(378.96 365.60) scale(0.890 1) rotate(-45)">SINE 2 AS</text>
<rect x="394.13" y="332.01" width="2.48" height="18.59" fill="#000000"/>
<rect x="396.61" y="335.79" width="2.48" height="14.81" fill="#ff0000"/>
<rect x="399.09" y="307.56" width="2.48" height="43.04" fill="#0000f0"/>
<rect x="401.78" y="325.46" width="2.08" height="25.14" fill="#fff" stroke="#666" stroke-width="0.6"/>
<rect x="404.06" y="280.36" width="2.48" height="70.24" fill="#007300"/>
<rect x="406.54" y="302.39" width="2.48" height="48.21" fill="#780078"/>
<text x="0" y="0" font-size="8.4" text-anchor="end" font-weight="normal" fill="#262626" stroke="#262626" stroke-width="0.1" word-spacing="0.3" transform="translate(397.58 365.60) scale(0.890 1) rotate(-45)">SINE 3 S</text>
<rect x="412.75" y="345.09" width="2.48" height="5.51" fill="#000000"/>
<rect x="415.23" y="336.48" width="2.48" height="14.12" fill="#ff0000"/>
<rect x="417.71" y="326.84" width="2.48" height="23.76" fill="#0000f0"/>
<rect x="420.39" y="325.46" width="2.08" height="25.14" fill="#fff" stroke="#666" stroke-width="0.6"/>
<rect x="422.67" y="307.21" width="2.48" height="43.39" fill="#007300"/>
<rect x="425.16" y="271.40" width="2.48" height="79.20" fill="#780078"/>
<text x="0" y="0" font-size="8.4" text-anchor="end" font-weight="normal" fill="#262626" stroke="#262626" stroke-width="0.1" word-spacing="0.3" transform="translate(416.19 365.60) scale(0.890 1) rotate(-45)">SINE 3 AS</text>
<rect x="431.36" y="346.19" width="2.48" height="4.41" fill="#000000"/>
<rect x="433.84" y="336.48" width="2.48" height="14.12" fill="#ff0000"/>
<rect x="436.33" y="335.86" width="2.48" height="14.74" fill="#0000f0"/>
<rect x="439.01" y="327.19" width="2.08" height="23.41" fill="#fff" stroke="#666" stroke-width="0.6"/>
<rect x="441.29" y="316.86" width="2.48" height="33.74" fill="#007300"/>
<rect x="443.77" y="304.12" width="2.48" height="46.49" fill="#780078"/>
<text x="0" y="0" font-size="8.4" text-anchor="end" font-weight="normal" fill="#262626" stroke="#262626" stroke-width="0.1" word-spacing="0.3" transform="translate(434.81 365.60) scale(0.890 1) rotate(-45)">SINE 4 S</text>
<rect x="449.98" y="339.75" width="2.48" height="10.85" fill="#000000"/>
<rect x="452.46" y="336.48" width="2.48" height="14.12" fill="#ff0000"/>
<rect x="454.94" y="328.32" width="2.48" height="22.28" fill="#0000f0"/>
<rect x="457.62" y="326.15" width="2.08" height="24.45" fill="#fff" stroke="#666" stroke-width="0.6"/>
<rect x="459.91" y="298.95" width="2.48" height="51.65" fill="#007300"/>
<rect x="462.39" y="311.00" width="2.48" height="39.60" fill="#780078"/>
<text x="0" y="0" font-size="8.4" text-anchor="end" font-weight="normal" fill="#262626" stroke="#262626" stroke-width="0.1" word-spacing="0.3" transform="translate(453.43 365.60) scale(0.890 1) rotate(-45)">SINE 4 AS</text>
<rect x="468.60" y="344.47" width="2.48" height="6.13" fill="#000000"/>
<rect x="471.08" y="336.83" width="2.48" height="13.77" fill="#ff0000"/>
<rect x="473.56" y="338.89" width="2.48" height="11.71" fill="#0000f0"/>
<rect x="476.24" y="328.91" width="2.08" height="21.69" fill="#fff" stroke="#666" stroke-width="0.6"/>
<rect x="478.52" y="325.29" width="2.48" height="25.31" fill="#007300"/>
<rect x="481.01" y="323.40" width="2.48" height="27.20" fill="#780078"/>
<text x="0" y="0" font-size="8.4" text-anchor="end" font-weight="normal" fill="#262626" stroke="#262626" stroke-width="0.1" word-spacing="0.3" transform="translate(472.04 365.60) scale(0.890 1) rotate(-45)">SINE 5 S</text>
<rect x="487.21" y="340.61" width="2.48" height="9.99" fill="#000000"/>
<rect x="489.69" y="336.14" width="2.48" height="14.46" fill="#ff0000"/>
<rect x="492.18" y="338.65" width="2.48" height="11.95" fill="#0000f0"/>
<rect x="494.86" y="329.77" width="2.08" height="20.83" fill="#fff" stroke="#666" stroke-width="0.6"/>
<rect x="497.14" y="324.78" width="2.48" height="25.83" fill="#007300"/>
<rect x="499.62" y="320.64" width="2.48" height="29.96" fill="#780078"/>
<text x="0" y="0" font-size="8.4" text-anchor="end" font-weight="normal" fill="#262626" stroke="#262626" stroke-width="0.1" word-spacing="0.3" transform="translate(490.66 365.60) scale(0.890 1) rotate(-45)">SINE 5 AS</text>
<rect x="505.83" y="344.47" width="2.48" height="6.13" fill="#000000"/>
<rect x="508.31" y="335.35" width="2.48" height="15.25" fill="#ff0000"/>
<rect x="510.79" y="326.94" width="2.48" height="23.66" fill="#0000f0"/>
<rect x="513.48" y="324.22" width="2.08" height="26.38" fill="#fff" stroke="#666" stroke-width="0.6"/>
<rect x="515.76" y="297.92" width="2.48" height="52.68" fill="#007300"/>
<rect x="518.24" y="278.63" width="2.48" height="71.97" fill="#780078"/>
<text x="0" y="0" font-size="8.4" text-anchor="end" font-weight="normal" fill="#262626" stroke="#262626" stroke-width="0.1" word-spacing="0.3" transform="translate(509.28 365.60) scale(0.890 1) rotate(-45)">SINE 6 S</text>
<rect x="524.45" y="333.38" width="2.48" height="17.22" fill="#000000"/>
<rect x="526.93" y="335.79" width="2.48" height="14.81" fill="#ff0000"/>
<rect x="529.41" y="322.54" width="2.48" height="28.06" fill="#0000f0"/>
<rect x="532.09" y="325.46" width="2.08" height="25.14" fill="#fff" stroke="#666" stroke-width="0.6"/>
<rect x="534.37" y="287.59" width="2.48" height="63.01" fill="#007300"/>
<rect x="536.86" y="309.28" width="2.48" height="41.32" fill="#780078"/>
<text x="0" y="0" font-size="8.4" text-anchor="end" font-weight="normal" fill="#262626" stroke="#262626" stroke-width="0.1" word-spacing="0.3" transform="translate(527.89 365.60) scale(0.890 1) rotate(-45)">SINE 6 AS</text>
<rect x="305.60" y="199.40" width="4.3" height="4.3" fill="#000000"/>
<text x="310.55" y="204.30" font-size="6.5" textLength="27.10" lengthAdjust="spacingAndGlyphs" fill="#2a2a2a" stroke="#2a2a2a" stroke-width="0.05">Fibroblast</text>
<rect x="341.10" y="199.40" width="4.3" height="4.3" fill="#ff0000"/>
<text x="345.95" y="204.30" font-size="6.5" textLength="23.10" lengthAdjust="spacingAndGlyphs" fill="#2a2a2a" stroke="#2a2a2a" stroke-width="0.05">ZR-75-1</text>
<rect x="371.80" y="199.40" width="4.3" height="4.3" fill="#0000f0"/>
<text x="377.15" y="204.30" font-size="6.5" textLength="15.40" lengthAdjust="spacingAndGlyphs" fill="#2a2a2a" stroke="#2a2a2a" stroke-width="0.05">MCF7</text>
<rect x="395.20" y="199.70" width="3.7" height="3.7" fill="#fff" stroke="#c8c8c8" stroke-width="0.6"/>
<text x="400.85" y="204.30" font-size="6.5" textLength="26.40" lengthAdjust="spacingAndGlyphs" fill="#2a2a2a" stroke="#2a2a2a" stroke-width="0.05">UACC893</text>
<rect x="430.00" y="199.40" width="4.3" height="4.3" fill="#007300"/>
<text x="435.15" y="204.30" font-size="6.5" textLength="30.00" lengthAdjust="spacingAndGlyphs" fill="#2a2a2a" stroke="#2a2a2a" stroke-width="0.05">UACC2087</text>
<rect x="468.30" y="199.40" width="4.3" height="4.3" fill="#780078"/>
<text x="473.05" y="204.30" font-size="6.5" textLength="36.00" lengthAdjust="spacingAndGlyphs" fill="#2a2a2a" stroke="#2a2a2a" stroke-width="0.05">MDA-MB-231</text>
<rect x="52.60" y="402.30" width="4.3" height="4.3" fill="#000000"/>
<text x="57.75" y="407.20" font-size="6.5" textLength="28.00" lengthAdjust="spacingAndGlyphs" fill="#2a2a2a" stroke="#2a2a2a" stroke-width="0.05">Fibroblast</text>
<rect x="88.60" y="402.30" width="4.3" height="4.3" fill="#ff0000"/>
<text x="93.65" y="407.20" font-size="6.5" textLength="23.00" lengthAdjust="spacingAndGlyphs" fill="#2a2a2a" stroke="#2a2a2a" stroke-width="0.05">ZR-75-1</text>
<rect x="119.80" y="402.30" width="4.3" height="4.3" fill="#0000f0"/>
<text x="124.85" y="407.20" font-size="6.5" textLength="15.90" lengthAdjust="spacingAndGlyphs" fill="#2a2a2a" stroke="#2a2a2a" stroke-width="0.05">MCF7</text>
<rect x="145.70" y="402.60" width="3.7" height="3.7" fill="#fff" stroke="#c8c8c8" stroke-width="0.6"/>
<text x="150.55" y="407.20" font-size="6.5" textLength="26.10" lengthAdjust="spacingAndGlyphs" fill="#2a2a2a" stroke="#2a2a2a" stroke-width="0.05">UACC893</text>
<rect x="178.80" y="402.30" width="4.3" height="4.3" fill="#007300"/>
<text x="184.95" y="407.20" font-size="6.5" textLength="29.00" lengthAdjust="spacingAndGlyphs" fill="#2a2a2a" stroke="#2a2a2a" stroke-width="0.05">UACC2087</text>
<rect x="217.60" y="402.30" width="4.3" height="4.3" fill="#780078"/>
<text x="223.05" y="407.20" font-size="6.5" textLength="36.30" lengthAdjust="spacingAndGlyphs" fill="#2a2a2a" stroke="#2a2a2a" stroke-width="0.05">MDA-MB-231</text>
<rect x="321.90" y="402.00" width="4.3" height="4.3" fill="#000000"/>
<text x="326.95" y="406.90" font-size="6.8" textLength="27.70" lengthAdjust="spacingAndGlyphs" fill="#2a2a2a" stroke="#2a2a2a" stroke-width="0.05">Fibroblast</text>
<rect x="358.10" y="402.00" width="4.3" height="4.3" fill="#ff0000"/>
<text x="363.35" y="406.90" font-size="6.8" textLength="23.50" lengthAdjust="spacingAndGlyphs" fill="#2a2a2a" stroke="#2a2a2a" stroke-width="0.05">ZR-75-1</text>
<rect x="390.50" y="402.00" width="4.3" height="4.3" fill="#0000f0"/>
<text x="394.95" y="406.90" font-size="6.8" textLength="17.90" lengthAdjust="spacingAndGlyphs" fill="#2a2a2a" stroke="#2a2a2a" stroke-width="0.05">MCF7</text>
<rect x="415.90" y="402.30" width="3.7" height="3.7" fill="#fff" stroke="#c8c8c8" stroke-width="0.6"/>
<text x="421.05" y="406.90" font-size="6.8" textLength="29.30" lengthAdjust="spacingAndGlyphs" fill="#2a2a2a" stroke="#2a2a2a" stroke-width="0.05">UACC893</text>
<rect x="453.30" y="402.00" width="4.3" height="4.3" fill="#007300"/>
<text x="458.45" y="406.90" font-size="6.8" textLength="32.10" lengthAdjust="spacingAndGlyphs" fill="#2a2a2a" stroke="#2a2a2a" stroke-width="0.05">UACC2087</text>
<rect x="494.00" y="402.00" width="4.3" height="4.3" fill="#780078"/>
<text x="499.15" y="406.90" font-size="6.8" textLength="38.40" lengthAdjust="spacingAndGlyphs" fill="#2a2a2a" stroke="#2a2a2a" stroke-width="0.05">MDA-MB-231</text>
</svg></body></html>
